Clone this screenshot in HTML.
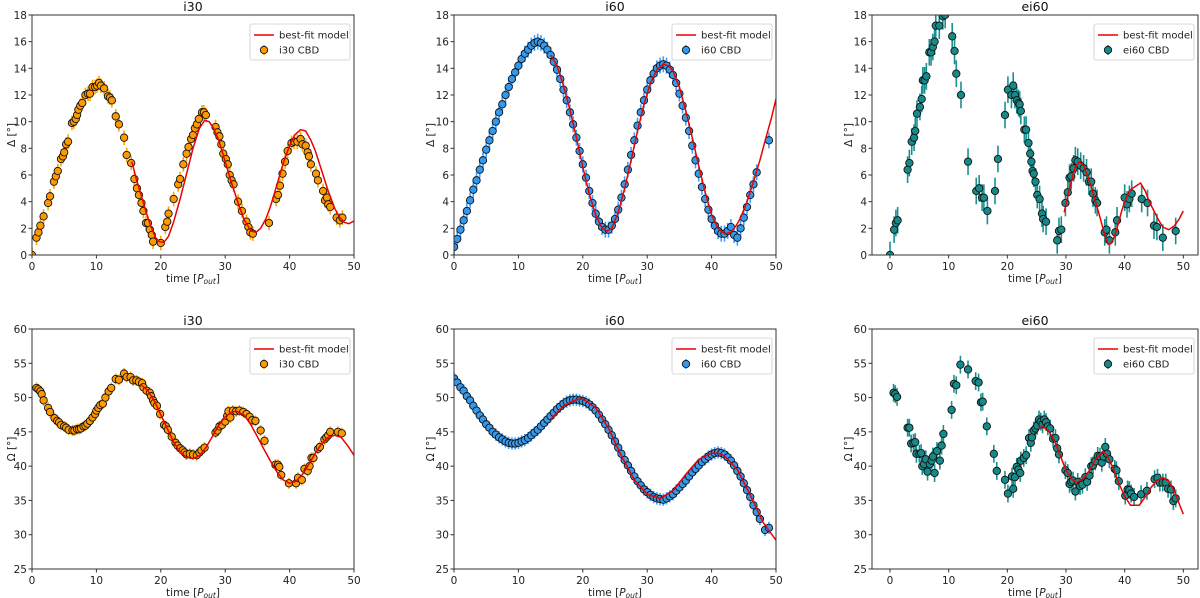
<!DOCTYPE html>
<html><head><meta charset="utf-8"><style>
body{margin:0;background:#fff;}
svg{display:block;font-family:"DejaVu Sans","Liberation Sans",sans-serif;}
</style></head><body>
<svg id="chart" width="1200" height="598" viewBox="0 0 1200 598" xmlns="http://www.w3.org/2000/svg"></svg>
<script>
// ---- data ----
const i30DeltaT=[0,0.7,1.0,1.3,1.8,2.5,2.8,3.4,3.7,4.0,4.5,4.8,5.0,5.3,5.6,6.2,6.5,6.8,7.0,7.2,7.5,7.8,8.3,8.7,9.0,9.4,9.8,10.1,10.4,10.7,11.2,11.8,12.1,12.4,13.0,13.5,14.3,14.7,15.4,15.9,16.3,16.6,17.0,17.3,17.7,18.0,18.3,18.6,18.8,20.0,20.7,21.0,21.2,22.0,22.7,23.0,23.5,24.0,24.3,24.7,25.0,25.3,25.6,25.9,26.4,26.7,27.0,28.5,28.8,29.1,29.4,29.7,30.1,30.4,30.7,31.0,31.3,32.0,32.6,33.3,33.6,33.9,34.3,36.8,37.9,38.2,38.5,38.9,39.3,39.7,40.3,40.7,41.2,41.7,42.0,42.5,42.8,43.0,43.3,44.1,44.4,45.2,45.5,45.8,46.0,46.3,47.3,47.8,48.2];
const i30DeltaV=[0,1.3,1.7,2.2,2.9,3.9,4.4,5.5,5.9,6.3,7.2,7.4,7.7,8.3,8.5,9.9,10.0,10.2,10.5,10.9,11.2,11.4,12.0,12.1,12.1,12.6,12.6,12.7,12.9,12.7,12.5,11.9,11.8,11.6,10.4,9.8,8.8,7.5,6.9,5.7,5.0,4.5,3.9,3.3,2.4,2.4,1.9,1.5,1.0,0.9,2.1,2.5,3.1,4.2,5.3,5.7,6.8,7.6,8.1,8.7,9.0,9.5,9.8,10.2,10.7,10.7,10.5,9.6,9.2,8.9,8.3,7.6,7.2,6.8,6.0,5.6,5.3,4.0,3.3,2.5,2.1,1.7,1.6,2.4,4.2,4.5,5.2,6.1,7.0,7.8,8.4,8.5,8.5,8.7,8.3,8.2,7.7,7.4,6.8,6.1,5.6,4.8,4.1,4.3,3.8,3.6,2.8,2.6,2.8];
const i30DeltaModelT=[15.5,16.2,17,17.8,18.5,19.2,19.8,20.5,21.2,22,23,24,25,26,26.8,27.5,28.2,29,30,31,32,33,34,34.8,35.5,36.3,37,38,39,40,40.8,41.7,42.5,43.3,44,45,46,47,47.8,48.5,49.2,50];
const i30DeltaModelV=[7,5.7,4.4,3.1,2.1,1.3,1.0,0.95,1.4,2.5,4.2,6.1,8.0,9.5,10.1,10.0,9.5,8.6,7.0,5.4,3.9,2.6,1.8,1.7,2.0,2.7,3.6,5.2,6.9,8.2,9.0,9.4,9.3,8.6,7.8,6.3,4.8,3.5,2.8,2.45,2.35,2.55];

const i60DeltaT=[0,0.5,1,1.5,2,2.5,3,3.5,4,4.5,5,5.5,6,6.5,7,7.5,8,8.5,9,9.5,10,10.5,11,11.5,12,12.5,13,13.5,14,14.5,15,15.5,16,16.5,17,17.5,18,18.5,19,19.5,20,20.5,21,21.5,22,22.5,23,23.5,24,24.5,25,25.5,26,26.5,27,27.5,28,28.5,29,29.5,30,30.5,31,31.5,32,32.5,33,33.5,34,34.5,35,35.5,36,36.5,37,37.5,38,38.5,39,39.5,40,40.5,41,41.5,42,42.5,43,43.5,44,44.5,45,45.5,46,46.5,47,48.9];
const i60DeltaV=[0.6,1.2,1.9,2.6,3.3,4.1,4.9,5.6,6.4,7.1,7.9,8.6,9.3,10,10.7,11.3,12,12.6,13.2,13.7,14.2,14.7,15.1,15.4,15.7,15.9,16,15.9,15.7,15.4,15,14.5,13.9,13.2,12.4,11.6,10.7,9.8,8.8,7.8,6.8,5.8,4.8,3.9,3.1,2.5,2.1,1.9,1.9,2.2,2.7,3.4,4.3,5.3,6.4,7.5,8.6,9.7,10.7,11.6,12.4,13.1,13.6,14,14.2,14.3,14.2,13.9,13.5,12.9,12.1,11.2,10.3,9.3,8.2,7.1,6.1,5.1,4.2,3.4,2.7,2.2,1.8,1.6,1.6,1.8,2.1,1.5,1.3,2,2.8,3.6,4.5,5.3,6.2,8.6];
const i60DeltaModelT=[15,16,17,18,19,20,21,22,23,23.8,24.5,25.5,26.5,27.5,28.5,29.5,30.5,31.5,32.5,33.3,34,35,36,37,38,39,40,41,42,43,43.8,44.5,45.5,46.5,47.5,48.5,49.3,50];
const i60DeltaModelV=[15,14.2,12.7,10.9,8.8,6.6,4.6,3.0,2.0,1.8,2.0,3.2,5.0,7.1,9.3,11.3,12.9,13.9,14.3,14.2,13.8,12.6,10.8,8.8,6.7,4.7,3.0,2.0,1.6,1.7,2.2,2.8,4.0,5.5,7.1,8.9,10.3,11.7];

const ei60DeltaT=[0,0.7,1.0,1.3,3.0,3.3,3.7,4.1,4.3,4.6,5.1,5.4,5.6,5.9,6.2,6.7,7.0,7.3,7.6,7.8,8.4,9.0,9.4,10.6,11.0,11.3,12.1,13.3,14.7,15.2,15.7,16.0,16.6,17.9,18.4,19.6,20.1,20.7,21.0,21.3,21.6,21.9,22.1,22.3,22.9,23.2,23.6,23.9,24.1,24.3,24.5,24.8,25.1,25.5,25.9,26.1,26.6,28.5,28.8,29.2,29.9,30.3,30.6,30.9,31.3,31.6,32.0,32.5,33.0,33.5,33.9,34.3,34.6,35.0,35.3,36.6,36.9,37.4,38.4,38.7,40.0,40.4,40.8,41.2,42.9,43.9,45.0,45.5,46.5,48.7];
const ei60DeltaV=[0,1.9,2.4,2.6,6.4,6.9,8.5,8.8,9.3,10.6,11.1,11.7,13.1,13.1,13.4,15.2,15.2,15.6,16.0,17.2,17.2,17.9,18.0,16.4,15.3,13.6,12.0,7.0,4.8,5.0,4.3,4.3,3.3,4.8,7.2,10.5,12.4,12.0,12.7,12.0,11.6,11.4,11.3,10.8,9.4,9.4,8.4,7.6,7.0,6.3,6.1,5.5,4.5,4.2,3.1,2.7,2.5,1.1,1.8,1.9,3.9,4.7,5.8,5.9,6.5,7.1,7.0,6.7,6.5,6.2,5.5,5.5,4.6,4.1,3.9,1.7,1.9,1.1,1.7,2.6,4.3,3.8,4.2,4.6,4.2,3.9,2.2,2.1,1.3,1.8];
const ei60DeltaModelT=[29.7,30.5,31.5,32.2,33,33.8,34.5,35.3,36,36.6,37.2,37.6,38,38.5,39,39.5,40,41,42,42.7,43.5,44.2,45,45.8,46.5,47.5,48.5,49.3,50];
const ei60DeltaModelV=[3.2,4.8,6.5,7.0,6.7,5.8,4.8,3.6,2.5,1.5,0.8,0.85,1.1,1.7,2.5,3.3,4.0,4.9,5.2,5.4,4.8,4.0,3.3,2.6,2.1,1.9,2.2,2.7,3.3];

const i30OmegaT=[0.7,1.0,1.3,1.5,1.8,2.5,2.8,3.5,3.9,4.2,4.5,5.0,5.3,5.7,6.3,6.6,7.0,7.3,7.6,8.0,8.3,8.6,9.0,9.4,9.8,10.0,10.3,10.6,11.0,11.4,11.9,12.3,13.0,13.5,14.3,14.7,15.3,15.7,16.2,16.6,17.1,17.3,17.8,18.3,18.5,18.8,19.0,19.4,19.9,20.5,20.8,21.1,21.7,22.3,22.6,23.0,23.4,23.7,24.0,24.5,25.0,25.6,26.0,26.3,26.8,28.5,28.8,29.1,29.5,30.0,30.3,30.5,30.8,31.2,31.7,32.2,32.8,33.3,33.8,34.2,34.7,35.5,36.1,37.8,38.2,38.4,38.7,39.9,41.0,41.3,41.9,42.3,42.8,43.1,43.4,43.7,44.4,44.7,45.4,45.7,46.0,46.3,47.5,48.1];
const i30OmegaV=[51.4,51.2,50.9,50.5,49.6,48.5,47.9,47.0,46.6,46.4,46.0,45.8,45.6,45.3,45.2,45.2,45.4,45.4,45.5,45.8,45.9,46.2,46.6,47.1,47.6,48.1,48.5,48.9,49.1,50.0,50.9,51.4,52.7,52.6,53.5,53.0,53.0,52.5,52.5,52.3,52.1,51.5,51.0,50.7,50.2,49.6,49.2,48.8,47.6,46.0,45.8,45.3,44.3,43.4,43.0,42.6,42.3,42.0,41.7,41.8,41.7,41.6,42.0,42.3,42.7,44.9,45.2,45.8,46.0,46.5,47.3,48.0,47.1,48.1,48.0,48.1,47.9,47.6,47.2,46.7,46.6,45.2,43.7,40.2,40.2,39.9,38.7,37.5,37.5,38.3,38.0,39.6,39.3,40.0,41.2,41.2,42.5,42.8,43.9,44.2,44.5,45.0,45.0,44.8];
const i30OmegaModelT=[17,18,19,20,21,22,23,24,25,26,27,28,29,30,31,31.8,33,34,35,36,37,38,39,40,41,42,43,44,45,46,47,48,49,50];
const i30OmegaModelV=[51.8,51,49.5,47.5,45.5,43.5,42,41.3,41.1,41.5,42.7,44.3,46,47.2,47.9,48.0,47.4,46,44.3,42.5,40.8,39.2,38.0,37.5,37.8,38.8,40.3,41.9,43.3,44.2,44.5,44.2,43,41.6];

const i60OmegaT=[0,0.5,1,1.5,2,2.5,3,3.5,4,4.5,5,5.5,6,6.5,7,7.5,8,8.5,9,9.5,10,10.5,11,11.5,12,12.5,13,13.5,14,14.5,15,15.5,16,16.5,17,17.5,18,18.5,19,19.5,20,20.5,21,21.5,22,22.5,23,23.5,24,24.5,25,25.5,26,26.5,27,27.5,28,28.5,29,29.5,30,30.5,31,31.5,32,32.5,33,33.5,34,34.5,35,35.5,36,36.5,37,37.5,38,38.5,39,39.5,40,40.5,41,41.5,42,42.5,43,43.5,44,44.5,45,45.5,46,46.5,47,47.5,48.3,48.9];
const i60OmegaV=[52.8,52.2,51.5,51,50.2,49.6,48.8,48.1,47.4,46.8,46.1,45.6,45,44.6,44.2,43.9,43.6,43.4,43.3,43.3,43.4,43.6,43.8,44.1,44.5,44.9,45.3,45.8,46.3,46.8,47.3,47.8,48.3,48.7,49.1,49.4,49.6,49.7,49.7,49.6,49.5,49.3,49,48.6,48.1,47.5,46.8,46.1,45.3,44.5,43.6,42.7,41.8,40.9,40.1,39.3,38.5,37.8,37.2,36.6,36.2,35.8,35.5,35.3,35.2,35.1,35.3,35.6,35.9,36.4,36.9,37.4,37.9,38.5,39.1,39.6,40.1,40.6,41,41.4,41.7,41.9,42,41.9,41.7,41.3,40.8,40.1,39.3,38.5,37.5,36.5,35.5,34.3,33.3,32.3,30.7,31];
const i60OmegaModelT=[15,17,19,20,22,24,26,28,30,32,34,36,38,40,41,42,44,46,48,50];
const i60OmegaModelV=[46.8,48.8,49.7,49.8,48.5,45.5,41.5,38,35.9,35.3,36.4,38.8,41,41.9,41.9,41.5,39.5,35.8,31.8,29.2];

const ei60OmegaT=[0.6,0.9,1.2,3.0,3.3,3.6,4.0,4.3,4.5,5.0,5.3,5.5,5.8,6.1,6.4,6.8,7.1,7.3,7.6,8.0,8.5,8.8,9.1,10.5,10.9,11.3,12.0,13.3,14.6,15.1,15.5,15.8,16.5,17.7,18.2,19.6,20.1,20.8,21.0,21.3,21.6,21.9,22.2,22.3,22.8,23.2,23.7,24.0,24.2,24.5,24.8,25.1,25.4,25.7,26.0,26.3,26.6,26.9,27.3,27.8,28.2,28.5,28.8,29.9,30.3,30.6,30.9,31.2,31.6,32.0,32.4,32.8,33.3,33.6,34.0,34.3,34.6,35.0,35.4,35.8,36.1,36.4,36.7,37.0,37.4,38.3,38.6,39.0,40.1,40.5,40.8,41.1,41.6,42.8,43.8,45.1,45.6,46.0,46.5,47.0,47.4,47.9,48.3,48.7];
const ei60OmegaV=[50.7,50.5,50.1,45.6,45.6,43.3,43.4,43.5,41.8,41.8,41.9,40.0,40.3,41.0,39.2,40.3,40.8,41.4,39.0,42.2,40.8,43.0,44.7,48.2,52.0,51.8,54.8,54.1,52.4,52.2,49.3,49.4,45.8,41.8,39.3,38.0,36.0,38.5,36.7,38.4,39.9,39.5,39.0,40.8,41.2,41.6,44.1,43.4,44.2,45.2,45.5,45.9,46.8,46.5,46.1,46.8,46.4,45.8,45.5,44.0,44.1,42.6,41.7,39.4,39.0,37.4,37.7,37.9,36.3,37.7,37.1,37.3,38.4,37.7,38.6,40.0,40.1,40.7,41.5,41.4,40.5,41.4,42.8,41.8,41.0,39.6,39.4,37.8,35.7,36.6,36.5,36.0,35.5,35.9,36.4,38.1,38.3,37.6,37.6,37.6,36.7,36.6,34.9,35.3];
const ei60OmegaModelT=[25.3,26,27,28,29,30,31,31.8,33,34,35,36.2,37,38,39,40,41,42.5,43.5,44.5,45.5,46.6,47.5,48.5,49.3,50];
const ei60OmegaModelV=[45.5,45.8,45.2,43.8,41.6,39.4,38.1,37.6,38.2,39.4,40.9,42.1,41.6,39.8,37.5,35.6,34.3,34.3,35.5,36.9,37.9,38.3,37.8,36.3,34.5,33];

const xTicks=[0,10,20,30,40,50];
const deltaTicks=[0,2,4,6,8,10,12,14,16,18];
const omegaTicks=[25,30,35,40,45,50,55,60];

const NS="http://www.w3.org/2000/svg";
const svg=document.getElementById('chart');
function mk(tag,attrs,parent){const e=document.createElementNS(NS,tag);for(const k in attrs)e.setAttribute(k,attrs[k]);(parent||svg).appendChild(e);return e;}

const panels=[
 {id:'i30-delta',title:'i30',L:32,R:354,T:15,B:255,x0:0,x1:50,y0:0,y1:18,yt:deltaTicks,yl:'Δ [°]',t:i30DeltaT,v:i30DeltaV,mt:i30DeltaModelT,mv:i30DeltaModelV,fill:'#ff9900',err:'#ffa500',e:0.55,lab:'i30 CBD'},
 {id:'i60-delta',title:'i60',L:454,R:776,T:15,B:255,x0:0,x1:50,y0:0,y1:18,yt:deltaTicks,yl:'Δ [°]',t:i60DeltaT,v:i60DeltaV,mt:i60DeltaModelT,mv:i60DeltaModelV,fill:'#3399ee',err:'#3fa0ff',e:0.6,lab:'i60 CBD'},
 {id:'ei60-delta',title:'ei60',L:872,R:1198,T:15,B:255,x0:-3.07,x1:52.5,y0:0,y1:18,yt:deltaTicks,yl:'Δ [°]',t:ei60DeltaT,v:ei60DeltaV,mt:ei60DeltaModelT,mv:ei60DeltaModelV,fill:'#168a8a',err:'#1a9090',e:1.0,lab:'ei60 CBD'},
 {id:'i30-omega',title:'i30',L:32,R:354,T:329,B:569,x0:0,x1:50,y0:25,y1:60,yt:omegaTicks,yl:'Ω [°]',t:i30OmegaT,v:i30OmegaV,mt:i30OmegaModelT,mv:i30OmegaModelV,fill:'#ff9900',err:'#ffa500',e:0.8,lab:'i30 CBD'},
 {id:'i60-omega',title:'i60',L:454,R:776,T:329,B:569,x0:0,x1:50,y0:25,y1:60,yt:omegaTicks,yl:'Ω [°]',t:i60OmegaT,v:i60OmegaV,mt:i60OmegaModelT,mv:i60OmegaModelV,fill:'#3399ee',err:'#3fa0ff',e:0.9,lab:'i60 CBD'},
 {id:'ei60-omega',title:'ei60',L:872,R:1198,T:329,B:569,x0:-3.07,x1:52.5,y0:25,y1:60,yt:omegaTicks,yl:'Ω [°]',t:ei60OmegaT,v:ei60OmegaV,mt:ei60OmegaModelT,mv:ei60OmegaModelV,fill:'#168a8a',err:'#1a9090',e:1.3,lab:'ei60 CBD'}
];

const defs=mk('defs',{});
panels.forEach((p,pi)=>{
 const sx=t=>p.L+(t-p.x0)/(p.x1-p.x0)*(p.R-p.L);
 const sy=v=>p.B-(v-p.y0)/(p.y1-p.y0)*(p.B-p.T);
 const g=mk('g',{});
 
 
 const cp=mk('clipPath',{id:'clip'+pi},defs);
 mk('rect',{x:p.L,y:p.T,width:p.R-p.L,height:p.B-p.T},cp);
 const plot=mk('g',{'clip-path':'url(#clip'+pi+')'},g);
 
 
 const eg=mk('g',{},plot);
 
 
 p.t.forEach((t,i)=>{
  const l=mk('line',{x1:sx(t),x2:sx(t),y1:sy(p.v[i]-p.e),y2:sy(p.v[i]+p.e),stroke:p.err,'stroke-width':1.6},eg);
  
  
 });
 const dg=mk('g',{},plot);
 
 
 p.t.forEach((t,i)=>{
  const c=mk('circle',{cx:sx(t),cy:sy(p.v[i]),r:3.7,fill:p.fill,stroke:'#111','stroke-width':0.9},dg);
  
  
 });
 const pts=p.mt.map((t,i)=>sx(t).toFixed(1)+','+sy(p.mv[i]).toFixed(1)).join(' ');
 const ml=mk('polyline',{points:pts,fill:'none',stroke:'#ee0000','stroke-width':1.5},plot);
 
 
 const fr=mk('rect',{x:p.L,y:p.T,width:p.R-p.L,height:p.B-p.T,fill:'none',stroke:'#333','stroke-width':1},g);
 
 
 xTicks.forEach(t=>{
  const x=sx(t);
  mk('line',{x1:x,x2:x,y1:p.B,y2:p.B+3.5,stroke:'#333'},g);
  const tx=mk('text',{x:x,y:p.B+15,'font-size':10.5,'text-anchor':'middle',fill:'#222'},g);
  tx.textContent=t;
  
  
 });
 p.yt.forEach(v=>{
  const y=sy(v);
  mk('line',{x1:p.L-3.5,x2:p.L,y1:y,y2:y,stroke:'#333'},g);
  const ty=mk('text',{x:p.L-5,y:y+4,'font-size':10.5,'text-anchor':'end',fill:'#222'},g);
  ty.textContent=v;
  
  
 });
 const ti=mk('text',{x:(p.L+p.R)/2,y:p.T-4,'font-size':12.5,'text-anchor':'middle',fill:'#111'},g);
 ti.textContent=p.title;
 
 
 const xl=mk('text',{x:(p.L+p.R)/2,y:p.B+27,'font-size':10.5,'text-anchor':'middle',fill:'#222'},g);
 xl.innerHTML='time [<tspan font-style="italic">P</tspan><tspan font-style="italic" font-size="7.5" dy="2">out</tspan><tspan dy="-2">]</tspan>';
 
 
 const yx=Math.max(p.L-20,15), yy=(p.T+p.B)/2;
 const yl=mk('text',{x:yx,y:yy,'font-size':10.5,'text-anchor':'middle',fill:'#222',transform:'rotate(-90 '+yx+' '+yy+')'},g);
 yl.textContent=p.yl;
 
 
 const lg=mk('g',{},g);
 
 
 const lw=100, lx=p.R-lw-4, ly=p.T+9;
 mk('rect',{x:lx,y:ly,width:lw,height:36,rx:2,fill:'#fff',stroke:'#ccc','stroke-width':0.8},lg);
 mk('line',{x1:lx+4,x2:lx+24,y1:ly+11,y2:ly+11,stroke:'#ee0000','stroke-width':1.5},lg);
 const t1=mk('text',{x:lx+29,y:ly+14.5,'font-size':10,fill:'#222'},lg);
 t1.textContent='best-fit model';
 
 
 mk('line',{x1:lx+14,x2:lx+14,y1:ly+21,y2:ly+31,stroke:p.err,'stroke-width':1.6},lg);
 mk('circle',{cx:lx+14,cy:ly+26,r:3.7,fill:p.fill,stroke:'#111','stroke-width':0.9},lg);
 const t2=mk('text',{x:lx+29,y:ly+29.5,'font-size':10,fill:'#222'},lg);
 t2.textContent=p.lab;
 
 
});
</script>
</body></html>
